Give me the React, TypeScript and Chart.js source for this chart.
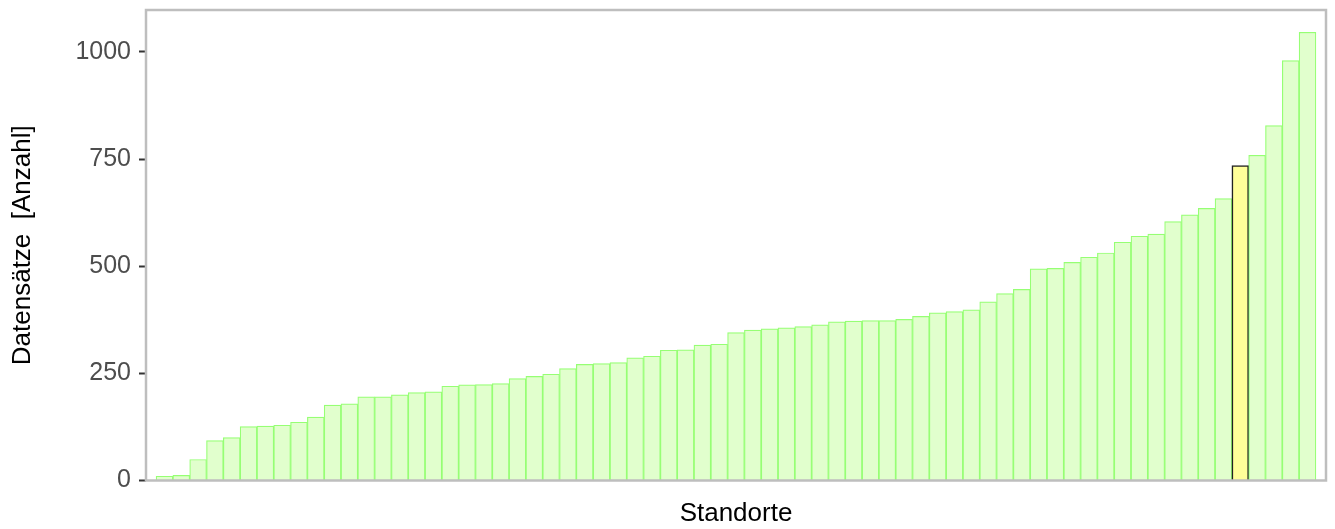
import React, { useEffect, useRef } from "react";
import { Chart, registerables } from "chart.js";

Chart.register(...registerables);

// Number of records per site, sorted ascending
const values: number[] = [
  10, 12, 49, 93, 100, 126, 127, 129, 136, 148,
  176, 179, 195, 195, 200, 205, 207, 220, 223, 224,
  226, 238, 243, 248, 261, 271, 273, 275, 286, 290,
  304, 305, 316, 318, 345, 351, 354, 356, 359, 363,
  370, 372, 373, 373, 376, 383, 391, 394, 398, 417,
  436, 446, 494, 495, 509, 521, 531, 556, 570, 575,
  604, 620, 635, 658, 735, 759, 828, 980, 1046,
];
const categories: string[] = values.map((_, i) => `Standort ${i + 1}`);
const highlightIndex = 64;
const yTicks: number[] = [0, 250, 500, 750, 1000];

const xTitle = "Standorte";
const yTitle = "Datensätze  [Anzahl]";

const FONT = "'Liberation Sans', Arial, sans-serif";

const panelBorder = {
  id: "panelBorder",
  afterDatasetsDraw(chart: any) {
    const { ctx, chartArea } = chart;
    ctx.save();
    ctx.strokeStyle = "#bebebe";
    ctx.lineWidth = 2.5;
    ctx.strokeRect(
      chartArea.left,
      chartArea.top,
      chartArea.right - chartArea.left,
      chartArea.bottom - chartArea.top
    );
    ctx.restore();
  },
};

export default function App() {
  const ref = useRef<HTMLCanvasElement | null>(null);

  useEffect(() => {
    if (!ref.current) return;
    const data = values.map((v, i) => ({ x: i + 1, y: v }));
    const chart = new Chart(ref.current, {
      type: "bar",
      data: {
        labels: categories,
        datasets: [
          {
            label: yTitle,
            data: data as any,
            backgroundColor: values.map((_, i) => (i === highlightIndex ? "#ffff99" : "#e1ffcd")),
            borderColor: values.map((_, i) => (i === highlightIndex ? "#222222" : "#96ff74")),
            borderWidth: values.map((_, i) => (i === highlightIndex ? 1.6 : 1.2)),
            barPercentage: 1,
            categoryPercentage: 1,
          },
        ],
      },
      options: {
        responsive: false,
        animation: false,
        layout: { padding: { top: 10, right: 9, left: 0, bottom: 0 } },
        plugins: {
          legend: { display: false },
          tooltip: { enabled: false },
        },
        scales: {
          x: {
            type: "linear",
            offset: false,
            min: -0.1,
            max: 70.1,
            grid: { display: false },
            border: { display: false },
            ticks: { display: false },
            title: {
              display: true,
              text: xTitle,
              color: "#000000",
              font: { family: FONT, size: 26 },
              padding: { top: 0, bottom: 0 },
            },
            afterFit(scale: any) {
              scale.height = 48.5;
              scale.paddingLeft = 0;
              scale.paddingRight = 0;
            },
          },
          y: {
            min: 0,
            max: 1098,
            grid: {
              drawOnChartArea: false,
              drawTicks: true,
              tickLength: 7,
              tickColor: "#333333",
              tickWidth: 2,
            },
            border: { display: false },
            ticks: {
              color: "#4d4d4d",
              font: { family: FONT, size: 25 },
              padding: 8,
              callback: (v: any) => String(v),
            },
            afterBuildTicks(scale: any) {
              scale.ticks = yTicks.map((v) => ({ value: v }));
            },
            title: {
              display: true,
              text: yTitle,
              color: "#000000",
              font: { family: FONT, size: 26 },
              padding: { top: 7, bottom: 0 },
            },
            afterFit(scale: any) {
              scale.width = 146;
              scale.paddingTop = 0;
              scale.paddingBottom = 0;
            },
          },
        },
      },
      plugins: [panelBorder],
    });
    return () => chart.destroy();
  }, []);

  return (
    <canvas
      ref={ref}
      width={1335}
      height={529}
      style={{ position: "absolute", left: 0, top: 0, width: 1335, height: 529 }}
    />
  );
}
